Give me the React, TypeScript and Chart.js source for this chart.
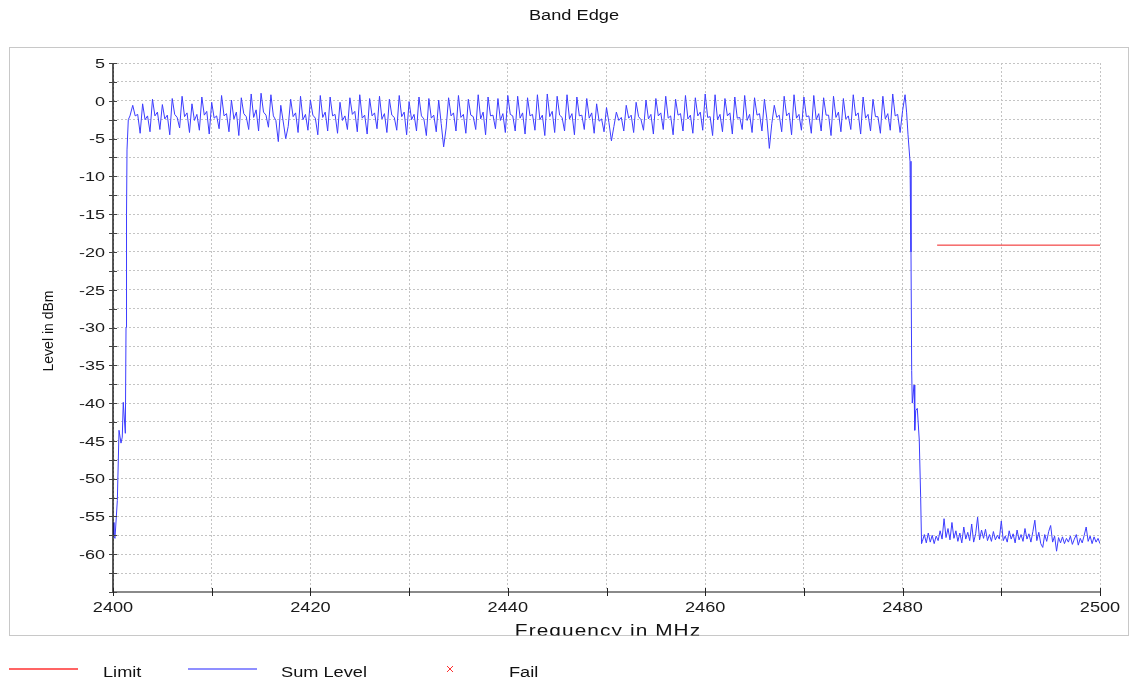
import React, { useEffect, useRef } from 'react';
import { Chart, registerables } from 'chart.js';

Chart.register(...registerables);

// ---------- text ----------
const TITLE = 'Band Edge';
const X_TITLE = 'Frequency in MHz';
const Y_TITLE = 'Level in dBm';
const LEGEND_LABELS = ['Limit', 'Sum Level', 'Fail'];

// ---------- axes ----------
const X_MIN = 2400;
const X_MAX = 2500;
const Y_MIN = -65;
const Y_MAX = 5;
const X_STEP = 10;
const Y_STEP = 2.5;
const xTickLabels = [2400, 2420, 2440, 2460, 2480, 2500];
const yTickLabels = [5, 0, -5, -10, -15, -20, -25, -30, -35, -40, -45, -50, -55, -60];

// ---------- Sum Level trace ----------
const leftEdgeFreqs = [2400.0, 2400.1, 2400.2, 2400.44, 2400.61, 2400.81, 2400.94, 2401.04, 2401.25, 2401.32, 2401.37, 2401.42, 2401.55, 2401.72];
const leftEdgeLevels = [-55.8, -57.6, -57.9, -52.9, -43.6, -45.3, -44.5, -39.9, -44.0, -30.0, -15.0, -6.5, -2.5, -2.0];

const inBandStart = 2402.0;
const inBandStep = 0.25;
const inBandLevels = [
  -0.6, -2.0, -1.8, -4.3, -0.4, -2.5, -2.0, -4.1, 0.2, -2.0, -1.5, -3.8, -0.5, -2.4, -1.9, -4.5, 0.3, -1.8, -2.2, -3.6,
  0.6, -2.1, -1.6, -4.2, -0.4, -2.6, -1.8, -3.9, 0.5, -1.9, -1.4, -4.4, -0.2, -2.3, -2.0, -3.7, 0.7, -2.0, -1.7, -4.1,
  0.1, -2.4, -1.5, -4.6, 0.4, -1.7, -2.1, -3.8, 0.9, -2.2, -1.2, -4.0, 1.0, -1.5, -1.9, -3.5, 0.8, -2.0, -2.6, -5.4,
  -0.6, -2.8, -5.0, -3.4, 0.2, -2.1, -1.6, -4.2, 0.6, -2.5, -1.8, -3.9, 0.1, -1.9, -2.3, -4.5, 0.7, -2.2, -1.5, -4.0,
  0.5, -2.0, -1.8, -4.3, -0.2, -2.6, -2.0, -3.8, 0.4, -1.8, -1.4, -4.1, 0.8, -2.3, -1.9, -4.4, 0.3, -2.0, -1.6, -3.7,
  0.6, -2.4, -1.7, -4.2, 0.2, -1.9, -2.2, -3.9, 0.7, -2.1, -1.5, -4.5, -0.1, -2.5, -1.8, -4.0, 0.5, -2.0, -2.4, -4.6,
  0.3, -2.3, -1.9, -4.1, 0.1, -3.0, -6.1, -3.6, 0.4, -2.0, -1.6, -4.0, 0.7, -2.2, -1.8, -4.3, 0.2, -1.9, -2.1, -3.8,
  0.8, -2.4, -1.5, -4.5, 0.5, -2.0, -1.9, -3.7, 0.3, -2.6, -1.7, -4.2, 0.7, -1.8, -2.0, -4.0, 0.6, -2.3, -1.6, -4.4,
  0.4, -2.0, -1.8, -3.9, 0.8, -2.5, -1.9, -4.6, 0.9, -2.1, -1.4, -4.2, 0.6, -1.9, -2.2, -4.0, 0.8, -2.4, -1.7, -4.5,
  0.5, -2.0, -1.9, -3.8, 0.3, -2.3, -1.6, -4.3, -0.4, -2.7, -2.4, -4.1, -0.9, -2.9, -5.3, -3.4, -1.5, -2.6, -2.2, -4.0,
  -0.6, -2.3, -1.9, -4.2, -0.2, -2.1, -2.5, -3.9, 0.1, -2.4, -1.8, -4.4, 0.3, -2.0, -1.6, -3.8, 0.6, -2.3, -2.0, -4.5,
  0.2, -1.9, -1.7, -4.0, 0.7, -2.4, -1.9, -4.3, 0.4, -2.0, -1.5, -3.9, 0.9, -2.2, -2.1, -4.6, 0.8, -2.5, -1.8, -4.1,
  0.3, -2.0, -1.6, -4.4, 0.5, -2.3, -2.2, -3.8, 0.7, -2.6, -1.8, -4.2, 0.4, -1.9, -1.7, -4.0, 0.2, -2.4, -6.3, -3.0,
  -0.6, -2.2, -1.9, -4.1, 0.6, -2.0, -1.6, -4.5, 0.8, -2.3, -1.8, -3.9, 0.5, -2.1, -2.0, -4.3, 0.7, -2.5, -1.7, -4.0,
  0.4, -1.9, -1.9, -4.6, 0.6, -2.2, -1.5, -4.1, 0.3, -2.4, -2.0, -3.8, 0.8, -2.0, -1.6, -4.4, 0.5, -2.3, -1.8, -4.0,
  0.2, -2.1, -2.1, -4.3, 0.6, -2.4, -1.7, -3.9, 0.9, -2.0, -1.8, -4.2,
  -1.3, 0.8,
];

const rightEdgeFreqs = [2480.41, 2480.55, 2480.75, 2480.85, 2480.92, 2480.98, 2481.16, 2481.23, 2481.33, 2481.49, 2481.69, 2481.83, 2481.92];
const rightEdgeLevels = [-1.6, -4.5, -8.0, -20.0, -35.7, -40.0, -37.6, -43.6, -41.0, -40.7, -44.9, -52.5, -58.6];

const noiseStart = 2482.0;
const noiseStep = 0.2;
const noiseLevels = [
  -58.3, -57.4, -58.5, -57.2, -58.4, -57.5, -58.6, -57.6, -58.2, -56.9,
  -58.0, -55.3, -57.8, -56.6, -58.1, -55.8, -57.9, -56.9, -58.3, -57.2,
  -58.5, -56.4, -58.0, -57.1, -58.2, -56.0, -58.4, -57.3, -55.1, -58.1,
  -56.8, -57.9, -56.7, -58.2, -57.4, -58.3, -57.0, -58.1, -57.5, -58.0,
  -55.6, -58.2, -57.6, -58.4, -56.9, -58.0, -57.3, -58.5, -56.8, -58.1,
  -57.4, -58.3, -56.6, -58.0, -57.3, -58.4, -57.0, -55.5, -58.2, -57.1,
  -58.6, -59.1, -57.4, -58.3, -57.0, -56.2, -58.4, -57.6, -59.6, -57.8,
  -58.5, -57.7, -58.6, -57.9, -58.4, -57.6, -58.7, -58.0, -57.4, -58.8,
  -57.9, -58.5, -57.5, -56.4, -58.3, -57.6, -58.6, -57.7, -58.4, -57.9,
  -58.6,
];

// ---------- Limit ----------
const limitFreqs = [2483.5, 2500];
const limitLevels = [-19.1, -19.1];

// ---------- colours ----------
const SUM_COLOR = '#3c3cff';
const LIMIT_COLOR = '#f01c1c';
const GRID_COLOR = '#c4c4c4';
const FRAME_COLOR = '#c8c8c8';
const FONT = '"Liberation Sans", Arial, Helvetica, sans-serif';

function drawText(
  ctx: CanvasRenderingContext2D,
  text: string,
  x: number,
  y: number,
  size: number,
  sx: number,
  align: 'left' | 'center' | 'right',
  color: string,
  spacing = 0,
  baseline: CanvasTextBaseline = 'alphabetic'
) {
  ctx.save();
  ctx.font = `${size}px ${FONT}`;
  ctx.fillStyle = color;
  ctx.textAlign = 'left';
  ctx.textBaseline = baseline;
  const chars = Array.from(text);
  let total: number;
  let widths: number[] = [];
  if (spacing) {
    widths = chars.map((c) => ctx.measureText(c).width * sx);
    total = widths.reduce((a, b) => a + b, 0) + spacing * (chars.length - 1);
  } else {
    total = ctx.measureText(text).width * sx;
  }
  const start = align === 'center' ? x - total / 2 : align === 'right' ? x - total : x;
  ctx.translate(start, y);
  ctx.scale(sx, 1);
  if (!spacing) {
    ctx.fillText(text, 0, 0);
  } else {
    let cx = 0;
    chars.forEach((c, i) => {
      ctx.fillText(c, cx / sx, 0);
      cx += widths[i] + spacing;
    });
  }
  ctx.restore();
}

const decorPlugin = {
  id: 'decor',
  afterDraw(chart: any) {
    const ctx: CanvasRenderingContext2D = chart.ctx;
    const xs = chart.scales.x;
    const ys = chart.scales.y;
    const area = chart.chartArea;

    ctx.save();
    // outer frame
    ctx.strokeStyle = FRAME_COLOR;
    ctx.lineWidth = 1;
    ctx.strokeRect(9.5, 47.5, 1119, 588);

    // title
    drawText(ctx, TITLE, 574, 20, 14, 1.3, 'center', '#111');

    // x axis line
    ctx.strokeStyle = '#8a8a8a';
    ctx.lineWidth = 2;
    ctx.beginPath();
    ctx.moveTo(area.left, area.bottom);
    ctx.lineTo(area.right, area.bottom);
    ctx.stroke();

    // y axis line
    ctx.strokeStyle = '#000';
    ctx.lineWidth = 1.3;
    ctx.beginPath();
    ctx.moveTo(area.left, area.top);
    ctx.lineTo(area.left, area.bottom);
    ctx.stroke();

    // y tick marks
    ctx.strokeStyle = '#444';
    ctx.lineWidth = 1;
    ys.ticks.forEach((t: any) => {
      const py = Math.round(ys.getPixelForValue(t.value)) + 0.5;
      ctx.beginPath();
      ctx.moveTo(area.left - 4, py);
      ctx.lineTo(area.left + 4, py);
      ctx.stroke();
    });
    // x tick marks
    ctx.strokeStyle = '#222';
    xs.ticks.forEach((t: any) => {
      const px = Math.round(xs.getPixelForValue(t.value)) + 0.5;
      ctx.beginPath();
      ctx.moveTo(px, area.bottom - 4);
      ctx.lineTo(px, area.bottom + 4);
      ctx.stroke();
    });

    // y labels
    yTickLabels.forEach((v) => {
      const py = ys.getPixelForValue(v);
      drawText(ctx, String(v), 105, py + 1.5, 12, 1.5, 'right', '#1a1a1a', 0, 'middle');
    });
    // x labels
    xTickLabels.forEach((v) => {
      const px = xs.getPixelForValue(v);
      drawText(ctx, String(v), px, 611.5, 14, 1.3, 'center', '#1a1a1a');
    });

    // y title
    ctx.save();
    ctx.translate(49, 331);
    ctx.rotate(-Math.PI / 2);
    ctx.font = `14px ${FONT}`;
    ctx.fillStyle = '#111';
    ctx.textAlign = 'center';
    ctx.textBaseline = 'middle';
    ctx.fillText(Y_TITLE, 0, 0);
    ctx.restore();

    // x title (clipped by the frame)
    ctx.save();
    ctx.beginPath();
    ctx.rect(0, 600, 1130, 35.5);
    ctx.clip();
    drawText(ctx, X_TITLE, (area.left + area.right) / 2 + 1, 635.5, 16, 1.3, 'center', '#111', 1.1);
    ctx.restore();

    // legend
    ctx.strokeStyle = '#ff6464';
    ctx.lineWidth = 2;
    ctx.beginPath();
    ctx.moveTo(9, 669);
    ctx.lineTo(78, 669);
    ctx.stroke();
    drawText(ctx, LEGEND_LABELS[0], 103, 677, 14, 1.3, 'left', '#111');

    ctx.strokeStyle = '#6a6aff';
    ctx.lineWidth = 1.3;
    ctx.beginPath();
    ctx.moveTo(188, 669);
    ctx.lineTo(257, 669);
    ctx.stroke();
    drawText(ctx, LEGEND_LABELS[1], 281, 677, 14, 1.3, 'left', '#111');

    ctx.strokeStyle = '#ff3030';
    ctx.lineWidth = 1;
    ctx.beginPath();
    ctx.moveTo(447, 666);
    ctx.lineTo(453, 672);
    ctx.moveTo(453, 666);
    ctx.lineTo(447, 672);
    ctx.stroke();
    drawText(ctx, LEGEND_LABELS[2], 509, 677, 14, 1.3, 'left', '#111');

    ctx.restore();
  },
};

export default function App() {
  const canvasRef = useRef<HTMLCanvasElement | null>(null);

  useEffect(() => {
    const canvas = canvasRef.current;
    if (!canvas) return;

    const sumPoints = [
      ...leftEdgeFreqs.map((f, i) => ({ x: f, y: leftEdgeLevels[i] })),
      ...inBandLevels.map((v, i) => ({ x: inBandStart + i * inBandStep, y: v })),
      ...rightEdgeFreqs.map((f, i) => ({ x: f, y: rightEdgeLevels[i] })),
      ...noiseLevels.map((v, i) => ({ x: noiseStart + i * noiseStep, y: v })),
    ];
    const limitPoints = limitFreqs.map((f, i) => ({ x: f, y: limitLevels[i] }));

    const gridOpts = {
      color: GRID_COLOR,
      lineWidth: 1,
      drawTicks: false,
    };

    const chart = new Chart(canvas, {
      type: 'line',
      data: {
        datasets: [
          {
            label: LEGEND_LABELS[0],
            data: limitPoints,
            borderColor: LIMIT_COLOR,
            borderWidth: 1,
            pointRadius: 0,
            tension: 0,
            fill: false,
          },
          {
            label: LEGEND_LABELS[1],
            data: sumPoints,
            borderColor: SUM_COLOR,
            borderWidth: 1,
            pointRadius: 0,
            tension: 0,
            fill: false,
          },
        ],
      },
      options: {
        responsive: false,
        animation: false,
        devicePixelRatio: 1,
        events: [],
        layout: { padding: { left: 0, top: 63, right: 30, bottom: 0 } },
        plugins: {
          legend: { display: false },
          title: { display: false },
          tooltip: { enabled: false },
        },
        scales: {
          x: {
            type: 'linear',
            min: X_MIN,
            max: X_MAX,
            ticks: { stepSize: X_STEP, display: false },
            grid: gridOpts,
            border: { display: false, dash: [2, 2] },
            afterFit: (s: any) => {
              s.height = 87;
            },
          },
          y: {
            type: 'linear',
            min: Y_MIN,
            max: Y_MAX,
            ticks: { stepSize: Y_STEP, display: false },
            grid: gridOpts,
            border: { display: false, dash: [2, 2] },
            afterFit: (s: any) => {
              s.width = 113;
            },
          },
        },
      } as any,
      plugins: [decorPlugin],
    });

    return () => chart.destroy();
  }, []);

  return (
    <div style={{ position: 'absolute', left: 0, top: 0, width: 1130, height: 679, background: '#fff' }}>
      <canvas ref={canvasRef} width={1130} height={679} style={{ display: 'block' }} />
    </div>
  );
}
